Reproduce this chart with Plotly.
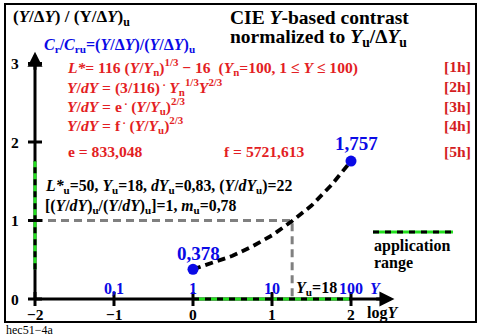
import plotly.graph_objects as go

# ---- data ----
log_y = [0.0, 0.25, 0.5, 0.75, 1.0, 1.25, 1.5, 1.75, 2.0]
contrast_ratio = [0.378, 0.46, 0.55, 0.67, 0.81, 0.99, 1.19, 1.45, 1.757]
log_y_u = 1.255          # log10(18)
ratio_u = 1.0
x_ticks = [-2, -1, 0, 1, 2]
x_tick_labels = ["\u22122", "\u22121", "0", "1", "2"]
y_ticks = [0, 1, 2, 3]
y_tick_labels = ["0", "1", "2", "3"]
lin_y_pos = [-1, 0, 1, 2]
lin_y_labels = ["0,1", "1", "10", "100"]
app_x = [0, 2]
app_y = [contrast_ratio[0], contrast_ratio[-1]]

W, H = 481, 336
X0, XS = 193.0, 79.0      # pixel of x=0, px per unit
Y0, YS = 299.0, 78.5      # pixel of y=0, px per unit
xr = [(0 - X0) / XS, (W - X0) / XS]
yr = [(Y0 - H) / YS, (Y0 - 0) / YS]

RED = "#e31e24"
BLUE = "#0a0ae6"
GREEN = "#22e01e"
GRAY = "#808080"
FONT = "Liberation Serif"


def px(x):
    return x / W


def py(y):
    return 1 - y / H


fig = go.Figure()

# gray reference lines at Yu
fig.add_trace(go.Scatter(x=[x_ticks[0], log_y_u, log_y_u], y=[ratio_u, ratio_u, 0],
                         mode="lines", line=dict(color=GRAY, width=3, dash="8px,5px"),
                         hoverinfo="skip"))

# axes
fig.add_trace(go.Scatter(x=[x_ticks[0], 2.5], y=[0, 0], mode="lines",
                         line=dict(color="black", width=3), hoverinfo="skip"))
fig.add_trace(go.Scatter(x=[x_ticks[0], x_ticks[0]], y=[0, 3.05], mode="lines",
                         line=dict(color="black", width=3), hoverinfo="skip"))

# application range (green/black dashed) on both axes
for xs, ys in (([app_x[0], app_x[1]], [0, 0]),
               ([x_ticks[0], x_ticks[0]], [app_y[0], app_y[1]])):
    fig.add_trace(go.Scatter(x=xs, y=ys, mode="lines", line=dict(color=GREEN, width=3),
                             hoverinfo="skip"))
    fig.add_trace(go.Scatter(x=xs, y=ys, mode="lines",
                             line=dict(color="black", width=3, dash="6px,6px"),
                             hoverinfo="skip"))

# ticks
fig.add_trace(go.Scatter(x=x_ticks, y=[0] * len(x_ticks), mode="markers",
                         marker=dict(symbol="line-ns", size=10, line=dict(color="black", width=3)),
                         hoverinfo="skip"))
fig.add_trace(go.Scatter(x=[x_ticks[0]] * len(y_ticks), y=y_ticks, mode="markers",
                         marker=dict(symbol="line-ew", size=10, line=dict(color="black", width=3)),
                         hoverinfo="skip"))

# contrast curve
fig.add_trace(go.Scatter(x=log_y, y=contrast_ratio, mode="lines",
                         line=dict(color="black", width=3.8, dash="8px,5px"),
                         hoverinfo="skip"))
fig.add_trace(go.Scatter(x=[log_y[0], log_y[-1]], y=[contrast_ratio[0], contrast_ratio[-1]],
                         mode="markers", marker=dict(color=BLUE, size=11),
                         hoverinfo="skip"))

ann = []


def text(x, y, s, size=14, color="black", xanchor="left", ref="paper"):
    if ref == "paper":
        ann.append(dict(x=px(x), y=py(y), xref="paper", yref="paper", text=s,
                        showarrow=False, xanchor=xanchor, yanchor="middle",
                        font=dict(family=FONT, size=size, color=color)))
    else:
        ann.append(dict(x=x, y=y, xref="x", yref="y", text=s,
                        showarrow=False, xanchor=xanchor, yanchor="middle",
                        font=dict(family=FONT, size=size, color=color)))


# arrowheads
ann.append(dict(x=2.55, y=0, ax=2.3, ay=0, xref="x", yref="y", axref="x", ayref="y",
                showarrow=True, arrowhead=2, arrowsize=1, arrowwidth=3, arrowcolor="black", text=""))
ann.append(dict(x=x_ticks[0], y=3.15, ax=x_ticks[0], ay=2.9, xref="x", yref="y", axref="x", ayref="y",
                showarrow=True, arrowhead=2, arrowsize=1, arrowwidth=3, arrowcolor="black", text=""))

# titles
text(11, 18, "<b>(<i>Y</i>/Δ<i>Y</i>) / (Y/Δ<i>Y</i>)<sub>u</sub></b>", 17)
text(228, 17, "<b>CIE <i>Y</i>-based contrast</b>", 19.5)
text(228, 38, "<b>normalized to <i>Y</i><sub>u</sub>/Δ<i>Y</i><sub>u</sub></b>", 19.5)
text(42, 46, "<b><i>C</i><sub>r</sub>/<i>C</i><sub>ru</sub>=(<i>Y</i>/Δ<i>Y</i>)/(<i>Y</i>/Δ<i>Y</i>)<sub>u</sub></b>",
     16, BLUE)

# formulas
rows = [
    (67, "<b><i>L*</i>= 116 (<i>Y</i>/<i>Y</i><sub>n</sub>)<sup>1/3</sup> − 16  (<i>Y</i><sub>n</sub>=100, 1 ≤ <i>Y</i> ≤ 100)</b>", "[1h]"),
    (87, "<b><i>Y</i>/<i>dY</i> = (3/116)<sup> .</sup> <i>Y</i><sub>n</sub><sup>1/3</sup><i>Y</i><sup>2/3</sup></b>", "[2h]"),
    (106, "<b><i>Y</i>/<i>dY</i> = e<sup> .</sup> (<i>Y</i>/<i>Y</i><sub>u</sub>)<sup>2/3</sup></b>", "[3h]"),
    (125, "<b><i>Y</i>/<i>dY</i> = f<sup> .</sup> (<i>Y</i>/<i>Y</i><sub>u</sub>)<sup>2/3</sup></b>", "[4h]"),
]
for yy, s, tag in rows:
    text(65, yy, s, 15.6, RED)
    text(473, yy, "<b>" + tag + "</b>", 15.6, "#d41c22", xanchor="right")
text(66, 152, "<b>e = 833,048</b>", 15.6, RED)
text(222, 152, "<b>f = 5721,613</b>", 15.6, RED)
text(473, 152, "<b>[5h]</b>", 15.6, "#d41c22", xanchor="right")

text(43, 186, "<b><i>L*</i><sub>u</sub>=50, <i>Y</i><sub>u</sub>=18, <i>dY</i><sub>u</sub>=0,83, (<i>Y</i>/<i>dY</i><sub>u</sub>)=22</b>", 15.8)
text(43, 206, "<b>[(<i>Y</i>/<i>dY</i>)<sub>u</sub>/(<i>Y</i>/<i>dY</i>)<sub>u</sub>]=1, <i>m</i><sub>u</sub>=0,78</b>", 15.8)

# point value labels
text(log_y[0] + 0.07, contrast_ratio[0] + 0.2, "<b>%s</b>" % f"{contrast_ratio[0]:.3f}".replace(".", ","),
     19, BLUE, xanchor="center", ref="data")
text(log_y[-1] + 0.07, contrast_ratio[-1] + 0.23, "<b>%s</b>" % f"{contrast_ratio[-1]:.3f}".replace(".", ","),
     19, BLUE, xanchor="center", ref="data")

# tick labels
for v, s in zip(y_ticks, y_tick_labels):
    text(15, Y0 - v * YS, "<b>%s</b>" % s, 15.5, xanchor="center")
for v, s in zip(x_ticks, x_tick_labels):
    text(X0 + v * XS, 314, "<b>%s</b>" % s, 15.5, xanchor="center")
for v, s in zip(lin_y_pos, lin_y_labels):
    text(X0 + v * XS, 288, "<b>%s</b>" % s, 16, BLUE, xanchor="center")
text(368, 288, "<b><i>Y</i></b>", 16, BLUE)
text(294, 288, "<b><i>Y</i><sub>u</sub>=18</b>", 16)
text(365, 313, "<b>log<i>Y</i></b>", 16)

# legend
fig.add_shape(type="line", xref="paper", yref="paper", x0=px(373), x1=px(453), y0=py(232), y1=py(232),
              line=dict(color=GREEN, width=3))
fig.add_shape(type="line", xref="paper", yref="paper", x0=px(373), x1=px(453), y0=py(232), y1=py(232),
              line=dict(color="black", width=3, dash="6px,6px"))
text(372, 246, "<b>application</b>", 16)
text(372, 263, "<b>range</b>", 16)

# frame and id
fig.add_shape(type="rect", xref="paper", yref="paper", x0=px(5), x1=px(476), y0=py(4), y1=py(322),
              line=dict(color="black", width=2))
text(4, 330, "hec51−4a", 12)

fig.update_layout(
    width=W, height=H, margin=dict(l=0, r=0, t=0, b=0),
    paper_bgcolor="white", plot_bgcolor="white", showlegend=False,
    xaxis=dict(range=xr, visible=False, fixedrange=True),
    yaxis=dict(range=yr, visible=False, fixedrange=True),
    annotations=ann,
)
fig.write_html("out.html")
